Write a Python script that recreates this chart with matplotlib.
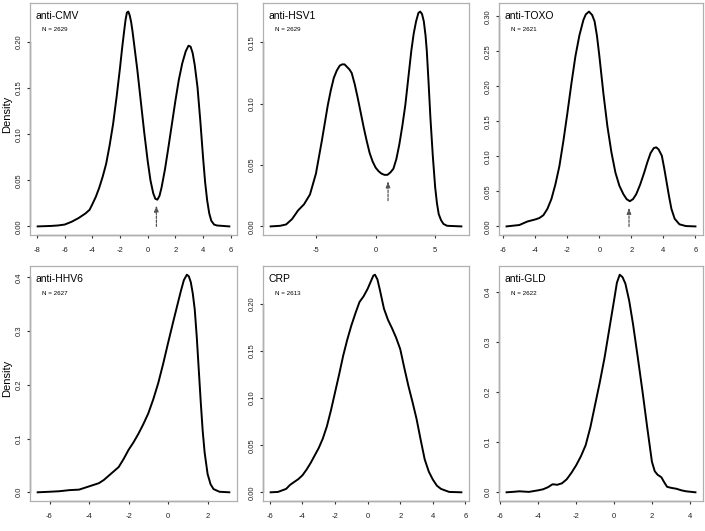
import matplotlib
matplotlib.use("Agg")
import matplotlib.pyplot as plt
from matplotlib.lines import Line2D

plt.rcParams['font.family'] = ['Liberation Sans', 'DejaVu Sans']
plt.rcParams['axes.unicode_minus'] = False

# ---- data (density curves) ----
names = ['anti-CMV', 'anti-HSV1', 'anti-TOXO', 'anti-HHV6', 'CRP', 'anti-GLD']
counts = ['N = 2629', 'N = 2629', 'N = 2621', 'N = 2627', 'N = 2613', 'N = 2622']

cmv_x = [-7.95, -7, -6.5, -6, -5.5, -5, -4.5, -4.2, -4, -3.75, -3.5, -3.25, -3, -2.75, -2.5, -2.25,
         -2.0, -1.85, -1.7, -1.6, -1.5, -1.4, -1.3, -1.2, -1.1, -1.0, -0.75, -0.5, -0.25, 0, 0.2,
         0.4, 0.55, 0.7, 0.85, 1.0, 1.25, 1.5, 1.75, 2, 2.25, 2.5, 2.75, 2.95, 3.1, 3.25, 3.4,
         3.6, 3.8, 4.0, 4.15, 4.3, 4.45, 4.6, 4.8, 5, 5.9]
cmv_y = [0.0, 0.0005, 0.001, 0.002, 0.005, 0.009, 0.014, 0.018, 0.024, 0.032, 0.042, 0.054, 0.068,
         0.088, 0.111, 0.14, 0.172, 0.193, 0.212, 0.224, 0.232, 0.233, 0.229, 0.222, 0.212, 0.200,
         0.17, 0.136, 0.102, 0.071, 0.050, 0.036, 0.030, 0.029, 0.033, 0.042, 0.062, 0.086, 0.111,
         0.136, 0.159, 0.177, 0.19, 0.196, 0.195, 0.188, 0.175, 0.151, 0.115, 0.075, 0.048, 0.028,
         0.014, 0.006, 0.002, 0.001, 0.0]

hsv_x = [-8.8, -8, -7.5, -7, -6.5, -6, -5.5, -5, -4.5, -4, -3.75, -3.5, -3.25, -3, -2.8, -2.6,
         -2.4, -2.2, -2, -1.75, -1.5, -1.25, -1, -0.75, -0.5, -0.25, 0, 0.25, 0.5, 0.75, 1.0,
         1.25, 1.5, 1.75, 2, 2.25, 2.5, 2.75, 3, 3.2, 3.4, 3.6, 3.75, 3.9, 4.05, 4.2, 4.3, 4.45,
         4.6, 4.8, 5, 5.15, 5.3, 5.5, 5.7, 6, 7.2]
hsv_y = [0.0, 0.0005, 0.0016, 0.006, 0.013, 0.018, 0.026, 0.043, 0.07, 0.099, 0.111, 0.121, 0.127,
         0.131, 0.132, 0.132, 0.130, 0.128, 0.125, 0.116, 0.105, 0.093, 0.081, 0.07, 0.06, 0.053,
         0.048, 0.045, 0.043, 0.042, 0.042, 0.044, 0.047, 0.055, 0.067, 0.082, 0.099, 0.121, 0.143,
         0.157, 0.167, 0.174, 0.175, 0.173, 0.167, 0.155, 0.143, 0.117, 0.089, 0.058, 0.032, 0.019,
         0.01, 0.005, 0.002, 0.0005, 0.0]

toxo_x = [-5.8, -5.4, -5, -4.5, -4, -3.75, -3.5, -3.25, -3, -2.75, -2.5, -2.25, -2, -1.75, -1.5,
          -1.25, -1, -0.85, -0.65, -0.45, -0.3, -0.15, 0, 0.25, 0.5, 0.75, 1, 1.25, 1.5, 1.7,
          1.9, 2.1, 2.3, 2.55, 2.8, 3.0, 3.2, 3.4, 3.55, 3.7, 3.9, 4.05, 4.2, 4.35, 4.5, 4.7, 5,
          5.4, 6]
toxo_y = [0.0, 0.001, 0.002, 0.007, 0.010, 0.012, 0.016, 0.025, 0.039, 0.060, 0.086, 0.122, 0.162,
          0.204, 0.243, 0.273, 0.295, 0.303, 0.307, 0.302, 0.293, 0.272, 0.243, 0.19, 0.143, 0.106,
          0.077, 0.058, 0.046, 0.039, 0.036, 0.039, 0.046, 0.06, 0.077, 0.092, 0.105, 0.112, 0.113,
          0.11, 0.101, 0.083, 0.063, 0.043, 0.025, 0.011, 0.003, 0.0005, 0.0]

hhv_x = [-6.6, -6, -5.5, -5, -4.5, -4, -3.5, -3.25, -3, -2.75, -2.5, -2.25, -2, -1.75, -1.5,
         -1.25, -1, -0.75, -0.5, -0.25, 0, 0.25, 0.5, 0.65, 0.8, 0.95, 1.05, 1.15, 1.25, 1.35,
         1.45, 1.55, 1.65, 1.75, 1.85, 2, 2.15, 2.3, 2.6, 3.1]
hhv_y = [0.0, 0.001, 0.002, 0.004, 0.005, 0.011, 0.017, 0.023, 0.031, 0.039, 0.047, 0.062, 0.079,
         0.093, 0.109, 0.127, 0.147, 0.173, 0.203, 0.239, 0.278, 0.316, 0.353, 0.375, 0.395, 0.405,
         0.402, 0.391, 0.37, 0.34, 0.29, 0.23, 0.17, 0.115, 0.074, 0.034, 0.015, 0.006, 0.001, 0.0]

crp_x = [-5.95, -5.5, -5.25, -5, -4.75, -4.5, -4.25, -4, -3.75, -3.5, -3.25, -3, -2.75, -2.5,
         -2.25, -2, -1.75, -1.5, -1.25, -1, -0.75, -0.5, -0.25, 0, 0.2, 0.35, 0.45, 0.6, 0.75, 1,
         1.25, 1.5, 1.75, 2, 2.25, 2.5, 2.75, 3, 3.25, 3.5, 3.75, 4, 4.25, 4.5, 5, 5.75]
crp_y = [0.0, 0.0004, 0.002, 0.0036, 0.008, 0.011, 0.014, 0.018, 0.024, 0.031, 0.039, 0.047, 0.057,
         0.07, 0.087, 0.106, 0.125, 0.145, 0.162, 0.177, 0.19, 0.202, 0.208, 0.216, 0.224, 0.23,
         0.231, 0.226, 0.215, 0.195, 0.183, 0.174, 0.164, 0.152, 0.132, 0.113, 0.096, 0.078, 0.056,
         0.035, 0.022, 0.0135, 0.007, 0.0036, 0.0004, 0.0]

gld_x = [-5.68, -5.3, -5, -4.5, -4, -3.75, -3.5, -3.25, -3, -2.75, -2.5, -2.25, -2, -1.75, -1.5,
         -1.25, -1, -0.75, -0.5, -0.25, 0, 0.15, 0.3, 0.45, 0.6, 0.8, 1, 1.25, 1.5, 1.75, 2, 2.15,
         2.3, 2.5, 2.65, 2.8, 3.0, 3.3, 3.55, 3.8, 4.3]
gld_y = [0.0, 0.001, 0.002, 0.0008, 0.004, 0.006, 0.010, 0.016, 0.015, 0.018, 0.026, 0.039, 0.054,
         0.072, 0.094, 0.13, 0.175, 0.22, 0.269, 0.326, 0.383, 0.418, 0.434, 0.429, 0.416, 0.382,
         0.336, 0.27, 0.202, 0.13, 0.061, 0.042, 0.035, 0.030, 0.02, 0.011, 0.009, 0.007, 0.004,
         0.002, 0.0]

curves_x = [cmv_x, hsv_x, toxo_x, hhv_x, crp_x, gld_x]
curves_y = [cmv_y, hsv_y, toxo_y, hhv_y, crp_y, gld_y]

xticks = [[-8, -6, -4, -2, 0, 2, 4, 6], [-5, 0, 5], [-6, -4, -2, 0, 2, 4, 6],
          [-6, -4, -2, 0, 2], [-6, -4, -2, 0, 2, 4, 6], [-6, -4, -2, 0, 2, 4]]
yticks = [[0, 0.05, 0.10, 0.15, 0.20], [0, 0.05, 0.10, 0.15], [0, 0.05, 0.10, 0.15, 0.20, 0.25, 0.30],
          [0, 0.1, 0.2, 0.3, 0.4], [0, 0.05, 0.10, 0.15, 0.20], [0, 0.1, 0.2, 0.3, 0.4]]
yfmt = ['%.2f', '%.2f', '%.2f', '%.1f', '%.2f', '%.1f']

# cut-off arrows (antimode): x position, arrow tail, arrow head
arrow_x = [0.63, 1.05, 1.85]
arrow_from = [0.0, 0.021, 0.0]
arrow_to = [0.023, 0.037, 0.027]

# ---- layout (pixels of a 705 x 531 figure) ----
W, H = 705, 531
col_left = [30, 263, 499]
col_w = [207, 206, 204]
row_top = [3, 266]
row_h = [232, 235]

fig = plt.figure(figsize=(W / 100, H / 100), dpi=100)
box_col = '#b0b0b0'
tick_col = '#333333'

for i in range(6):
    r, c = divmod(i, 3)
    ax = fig.add_axes([col_left[c] / W, 1 - (row_top[r] + row_h[r]) / H, col_w[c] / W, row_h[r] / H])
    ax.plot(curves_x[i], curves_y[i], color='black', lw=1.4, solid_joinstyle='round')
    ax.margins(x=0.04, y=0.04)
    for s in ax.spines.values():
        s.set_color(box_col)
        s.set_linewidth(0.9)
    ax.set_xticks(xticks[i])
    ax.set_yticks(yticks[i])
    ax.set_xticklabels([str(t) for t in xticks[i]])
    ax.set_yticklabels([yfmt[i] % t for t in yticks[i]], rotation=90, va='center')
    ax.tick_params(length=2.5, width=0.8, color=tick_col, labelsize=5.5, labelcolor='#222222')
    ax.tick_params(axis='x', pad=6)
    ax.tick_params(axis='y', pad=3)
    # R style axis line spanning the outer ticks
    ax.add_line(Line2D([xticks[i][0], xticks[i][-1]], [0, 0], transform=ax.get_xaxis_transform(),
                       color=tick_col, lw=0.9, clip_on=False))
    ax.add_line(Line2D([0, 0], [yticks[i][0], yticks[i][-1]], transform=ax.get_yaxis_transform(),
                       color=tick_col, lw=0.9, clip_on=False))
    ax.text(0.025, 0.965, names[i], transform=ax.transAxes, fontsize=7.5, ha='left', va='top')
    ax.text(0.06, 0.885, counts[i], transform=ax.transAxes, fontsize=4.5, ha='left', va='center')
    if c == 0:
        ax.set_ylabel('Density', fontsize=8)
        ax.yaxis.set_label_coords(-18 / 207, 0.52)
    if i < len(arrow_x):
        ax.annotate('', xy=(arrow_x[i], arrow_to[i]), xytext=(arrow_x[i], arrow_from[i]),
                    arrowprops=dict(arrowstyle='-|>,head_length=0.35,head_width=0.12',
                                    color='#555555', lw=0.9, linestyle=(0, (2, 1.2)),
                                    shrinkA=0, shrinkB=0))

fig.savefig('out.png', dpi=100)
